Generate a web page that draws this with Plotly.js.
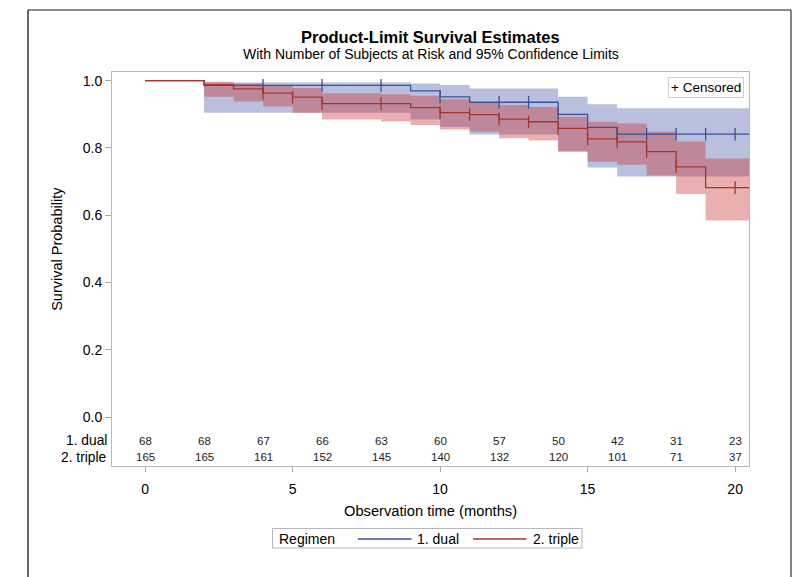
<!DOCTYPE html>
<html>
<head>
<meta charset="utf-8">
<script src="https://cdn.plot.ly/plotly-3.0.1.min.js"></script>
<style>
  html, body { margin: 0; padding: 0; background: #fff; }
  #chart { width: 795px; height: 577px; }
</style>
</head>
<body>
<div id="chart"></div>
<script>
// ---- Data ----
const dualTime  = [0, 2, 9, 10, 11, 14, 15, 16, 20.47];
const dualSurv  = [1, 0.986, 0.970, 0.952, 0.936, 0.900, 0.861, 0.841, 0.841];
const dualUpper = [1, 0.995, 0.992, 0.987, 0.977, 0.952, 0.930, 0.918, 0.918];
const dualLower = [1, 0.905, 0.885, 0.862, 0.840, 0.790, 0.742, 0.715, 0.715];
const dualCensor = [4, 6, 8, 10, 12, 13, 14, 16, 17, 18, 19, 20];

const tripleTime  = [0, 2, 3, 4, 5, 6, 8, 9, 10, 11, 12, 13, 14, 15, 16, 17, 18, 19, 20.47];
const tripleSurv  = [1, 0.988, 0.976, 0.963, 0.951, 0.932, 0.932, 0.920, 0.905, 0.899, 0.886, 0.878, 0.858, 0.827, 0.818, 0.789, 0.744, 0.682, 0.682];
const tripleUpper = [1, 0.997, 0.992, 0.985, 0.978, 0.963, 0.960, 0.955, 0.945, 0.936, 0.928, 0.922, 0.893, 0.878, 0.873, 0.848, 0.819, 0.769, 0.769];
const tripleLower = [1, 0.952, 0.938, 0.923, 0.905, 0.885, 0.879, 0.868, 0.855, 0.848, 0.829, 0.822, 0.789, 0.759, 0.750, 0.718, 0.663, 0.584, 0.584];
const tripleCensor = [4, 5, 6, 8, 10, 11, 12, 13, 14, 15, 16, 17, 18, 20];

const riskMonths = [0, 2, 4, 6, 8, 10, 12, 14, 16, 18, 20];
const riskDual   = [68, 68, 67, 66, 63, 60, 57, 50, 42, 31, 23];
const riskTriple = [165, 165, 161, 152, 145, 140, 132, 120, 101, 71, 37];
const groupLabels = ['1. dual', '2. triple'];
const legendTitle = 'Regimen';

const yTicks = [0, 0.2, 0.4, 0.6, 0.8, 1.0];
const xTicks = [0, 5, 10, 15, 20];

// ---- Styling ----
const FONT = 'Liberation Sans, Arial, sans-serif';
const blue = '#3d4f98';
const red = '#a5352c';
const blueFill = 'rgba(80,97,172,0.40)';
const redFill = 'rgba(200,45,45,0.38)';
const riskY = [-0.070, -0.120];

// pixel helpers (figure pixel -> paper coordinates)
const L = 112, T = 72, PW = 637, PH = 394;
const px = x => (x - L) / PW;
const py = y => 1 - (y - T) / PH;

function stepAt(times, surv, t) {
  let v = surv[0];
  for (let i = 0; i < times.length; i++) { if (times[i] <= t) v = surv[i]; }
  return v;
}

const traces = [
  { x: dualTime, y: dualLower, type: 'scatter', mode: 'lines', line: {shape: 'hv', width: 0}, showlegend: false, hoverinfo: 'skip' },
  { x: dualTime, y: dualUpper, type: 'scatter', mode: 'lines', line: {shape: 'hv', width: 0}, fill: 'tonexty', fillcolor: blueFill, showlegend: false, hoverinfo: 'skip' },
  { x: tripleTime, y: tripleLower, type: 'scatter', mode: 'lines', line: {shape: 'hv', width: 0}, showlegend: false, hoverinfo: 'skip' },
  { x: tripleTime, y: tripleUpper, type: 'scatter', mode: 'lines', line: {shape: 'hv', width: 0}, fill: 'tonexty', fillcolor: redFill, showlegend: false, hoverinfo: 'skip' },
  { x: dualTime, y: dualSurv, type: 'scatter', mode: 'lines', name: groupLabels[0], line: {shape: 'hv', color: blue, width: 1.3} },
  { x: tripleTime, y: tripleSurv, type: 'scatter', mode: 'lines', name: groupLabels[1], line: {shape: 'hv', color: red, width: 1.3} },
  { x: dualCensor, y: dualCensor.map(t => stepAt(dualTime, dualSurv, t)), type: 'scatter', mode: 'markers', showlegend: false,
    marker: {symbol: 'line-ns', size: 9, line: {color: blue, width: 1.3}} },
  { x: tripleCensor, y: tripleCensor.map(t => stepAt(tripleTime, tripleSurv, t)), type: 'scatter', mode: 'markers', showlegend: false,
    marker: {symbol: 'line-ns', size: 9, line: {color: red, width: 1.3}} }
];

const annotations = [
  { text: '<b>Product-Limit Survival Estimates</b>', xref: 'paper', yref: 'paper', x: px(430.5), y: py(37), xanchor: 'center', yanchor: 'middle', showarrow: false, font: {family: FONT, size: 16.5, color: '#000'} },
  { text: 'With Number of Subjects at Risk and 95% Confidence Limits', xref: 'paper', yref: 'paper', x: px(430.5), y: py(54), xanchor: 'center', yanchor: 'middle', showarrow: false, font: {family: FONT, size: 14, color: '#000'} },
  { text: '+ Censored', xref: 'paper', yref: 'paper', x: px(744), y: py(77.3), xanchor: 'right', yanchor: 'top', showarrow: false,
    font: {family: FONT, size: 13.5, color: '#000'}, bordercolor: '#d0d0d0', borderwidth: 1, borderpad: 2, bgcolor: '#fff' },
  { text: 'Survival Probability', xref: 'paper', yref: 'y', x: px(57), y: 0.5, xanchor: 'center', yanchor: 'middle', textangle: -90, showarrow: false,
    font: {family: FONT, size: 14.5, color: '#000'} },
  { text: 'Observation time (months)', xref: 'paper', yref: 'paper', x: px(430.5), y: py(511), xanchor: 'center', yanchor: 'middle', showarrow: false,
    font: {family: FONT, size: 14.7, color: '#000'} },
  // bottom legend texts
  { text: legendTitle, xref: 'paper', yref: 'paper', x: px(277), y: py(538.5), xanchor: 'left', yanchor: 'middle', showarrow: false, font: {family: FONT, size: 14, color: '#000'} },
  { text: groupLabels[0], xref: 'paper', yref: 'paper', x: px(414.5), y: py(538.5), xanchor: 'left', yanchor: 'middle', showarrow: false, font: {family: FONT, size: 14, color: '#000'} },
  { text: groupLabels[1], xref: 'paper', yref: 'paper', x: px(531), y: py(538.5), xanchor: 'left', yanchor: 'middle', showarrow: false, font: {family: FONT, size: 14, color: '#000'} }
];
groupLabels.forEach((g, gi) => {
  annotations.push({ text: g, xref: 'paper', yref: 'y', x: px(108.5), y: riskY[gi], xanchor: 'right', yanchor: 'middle', showarrow: false,
    font: {family: FONT, size: 13.8, color: '#000'} });
});
riskMonths.forEach((m, i) => {
  annotations.push({ text: String(riskDual[i]), x: m, y: riskY[0], xref: 'x', yref: 'y', showarrow: false, xanchor: 'center', yanchor: 'middle', font: {family: FONT, size: 11.5, color: '#222'} });
  annotations.push({ text: String(riskTriple[i]), x: m, y: riskY[1], xref: 'x', yref: 'y', showarrow: false, xanchor: 'center', yanchor: 'middle', font: {family: FONT, size: 11.5, color: '#222'} });
});

const shapes = [
  // outer frame
  { type: 'line', xref: 'paper', yref: 'paper', x0: px(28), x1: px(791), y0: py(10), y1: py(10), line: {color: '#8a8a8a', width: 2} },
  { type: 'line', xref: 'paper', yref: 'paper', x0: px(28), x1: px(28), y0: py(10), y1: py(580), line: {color: '#333', width: 1.5} },
  { type: 'line', xref: 'paper', yref: 'paper', x0: px(791), x1: px(791), y0: py(10), y1: py(580), line: {color: '#333', width: 1.2} },
  // bottom legend box and line samples
  { type: 'rect', xref: 'paper', yref: 'paper', x0: px(272.5), x1: px(582), y0: py(528.5), y1: py(548), line: {color: '#b4b8bc', width: 1}, fillcolor: '#fff' },
  { type: 'line', xref: 'paper', yref: 'paper', x0: px(358), x1: px(411.5), y0: py(539), y1: py(539), line: {color: blue, width: 1.3} },
  { type: 'line', xref: 'paper', yref: 'paper', x0: px(473), x1: px(526.5), y0: py(539), y1: py(539), line: {color: red, width: 1.3} }
];

const layout = {
  width: 795, height: 577,
  margin: {l: L, r: 795 - L - PW, t: T, b: 577 - T - PH},
  paper_bgcolor: '#fff', plot_bgcolor: '#fff',
  font: {family: FONT, color: '#000'},
  showlegend: false,
  xaxis: {
    range: [-1.12, 20.47], tickvals: xTicks, ticktext: xTicks.map(String),
    ticks: 'outside', ticklen: 5, tickcolor: '#a8a8a8', showgrid: false, zeroline: false,
    showline: true, mirror: true, linecolor: '#b4b8bc', linewidth: 1, ticklabelstandoff: 5,
    tickfont: {family: FONT, size: 14, color: '#000'}
  },
  yaxis: {
    range: [-0.1457, 1.0259], tickvals: yTicks, ticktext: yTicks.map(v => v.toFixed(1)),
    ticks: 'outside', ticklen: 6, tickcolor: '#a8a8a8', showgrid: false, zeroline: false,
    showline: true, mirror: true, linecolor: '#b4b8bc', linewidth: 1,
    tickfont: {family: FONT, size: 14, color: '#000'}
  },
  annotations: annotations,
  shapes: shapes
};

Plotly.newPlot('chart', traces, layout, {displayModeBar: false, staticPlot: true});
</script>
</body>
</html>
